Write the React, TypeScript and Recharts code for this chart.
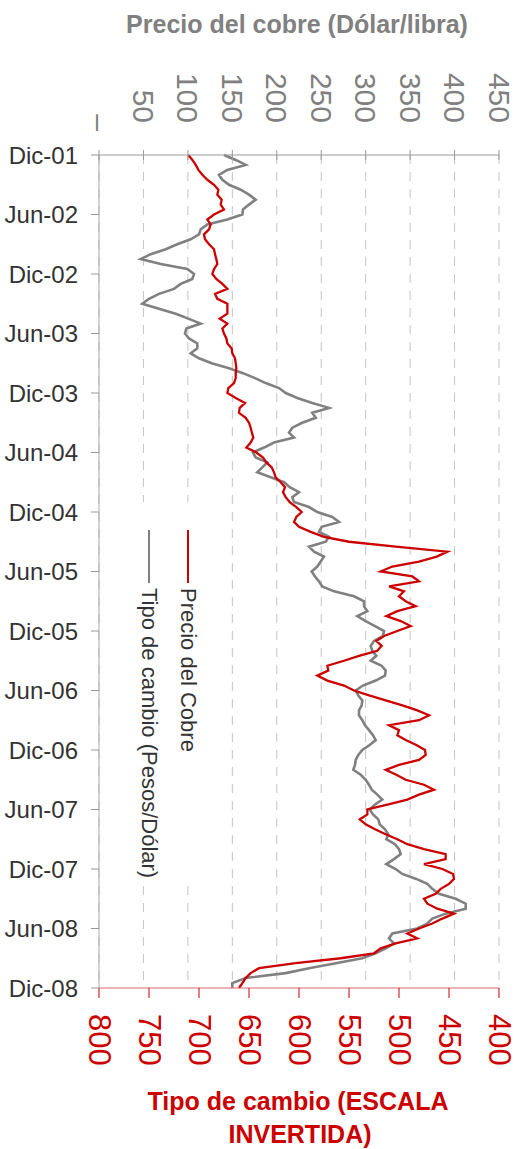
import React from 'react';
import { LineChart, Line, XAxis, YAxis, CartesianGrid, Legend } from 'recharts';

const FONT = '"Liberation Sans", Arial, Helvetica, sans-serif';

// Time axis (months since Dic-01), one sample every half month
const STEP_MONTHS = 0.5;
const dateLabels = ['Dic-01', 'Jun-02', 'Dic-02', 'Jun-03', 'Dic-03', 'Jun-04', 'Dic-04', 'Jun-05', 'Dic-05', 'Jun-06', 'Dic-06', 'Jun-07', 'Dic-07', 'Jun-08', 'Dic-08'];
const monthTicks = [0, 6, 12, 18, 24, 30, 36, 42, 48, 54, 60, 66, 72, 78, 84];
const copperTicks = [0, 50, 100, 150, 200, 250, 300, 350, 400, 450];
const fxTicks = [400, 450, 500, 550, 600, 650, 700, 750, 800];

// Precio del cobre (top axis)
const precioCobre = [
  100.5, 105, 108.8, 111.8, 116.3, 121.9, 129.4, 134.3, 133.1, 138, 136.9, 140.6,
  129.4, 121.9, 125.6, 123.8, 118.1, 119.3, 123.8, 129.4, 130.5, 132, 133.1, 129.4,
  127.5, 132, 138.8, 144.4, 130.5, 133.1, 144.4, 144.4, 144.4, 135.8, 144.4, 138.8,
  140.6, 143.3, 144.4, 149.3, 150, 153, 153.8, 154.5, 153.8, 153.8, 151.9, 145.5,
  144.4, 153.8, 164.3, 158.3, 157.5, 165, 168.8, 170.6, 172, 173.6, 170.6, 165.8,
  177, 184.5, 188.3, 194.3, 196.9, 198.8, 204.4, 209.3, 207, 210, 214.5, 222,
  228, 222, 219.4, 225, 238.1, 253.1, 281.3, 333.8, 392, 380, 360, 330,
  316.9, 352.5, 360, 326.3, 343.1, 337.5, 345, 356.3, 335.6, 323.3, 339.4, 350.6,
  335.6, 320.6, 312, 318, 313.1, 292.5, 275.6, 256.9, 258, 245.6, 256.9, 275.6,
  286.9, 303.8, 322.5, 341.3, 358.1, 371.3, 360, 326.3, 337.5, 335.6, 345, 357,
  366.8, 367.5, 360, 337.5, 322.5, 334.5, 345, 365.6, 376.9, 360, 346.9, 324.4,
  301.9, 301.9, 293.3, 300, 310.5, 322.5, 335.6, 346.9, 365.6, 390, 390, 365.6,
  386.3, 398.3, 399.4, 393.8, 384.4, 378.8, 365.6, 369.4, 380.6, 399.4, 386.3, 375,
  360, 346.9, 358.1, 333.8, 316.9, 309.4, 271.9, 221.3, 180, 170.6, 165, 161.3,
  157.5,
];

// Tipo de cambio, pesos por dólar (bottom axis, inverted)
const tipoCambio = [
  675, 663.3, 653.3, 671.7, 680, 676.7, 670, 658.3, 650, 643.3, 650, 656,
  656.7, 671.7, 691.7, 698.3, 700, 708.3, 721.7, 733.3, 748.3, 758.3, 738.3, 711.7,
  705, 706.7, 718.3, 725, 740, 750, 756.7, 740, 723.3, 710.7, 698.3, 712.7,
  714, 710, 701.7, 701.7, 708.3, 700, 687.3, 670, 656, 644, 633.3, 620,
  613.3, 601.7, 586.7, 570, 586.7, 583.3, 596.7, 606.7, 610, 605, 625, 635,
  646, 643.3, 631.7, 636.7, 641.7, 628.3, 615, 609.3, 600, 606.7, 605, 590,
  581.7, 566.7, 560, 577.3, 580, 570, 573.3, 590, 585, 575, 578.3, 581.7,
  587.3, 584, 580, 576.7, 565, 545, 535, 535, 531.7, 541.7, 533.3, 524,
  515, 516, 525, 528.3, 526.7, 522.7, 528.3, 517.3, 513.3, 514, 523.3, 536,
  543.3, 540.7, 536.7, 537.3, 540, 540, 536.7, 534, 530, 526, 523.3, 529.3,
  536.7, 540.7, 543.3, 544, 545.7, 538.3, 533.3, 530, 527.3, 521.7, 516.7, 524,
  529.3, 526, 520.7, 519.3, 514, 510.7, 512.7, 504, 500, 498.3, 505, 512.7,
  503.3, 496.7, 482.7, 471.7, 466.7, 460, 443.3, 433.3, 433.3, 453.3, 466.7, 471.7,
  481.7, 506.7, 510, 505, 513.3, 523.3, 536.7, 563.3, 590, 613.3, 653.3, 666.7,
  666.7,
];

const data = precioCobre.map((v, i) => ({ mes: i * STEP_MONTHS, cobre: v, tc: tipoCambio[i] }));

const TopTick = (props: any) => {
  const { x, y, payload } = props;
  const v = payload.value;
  const label = v === 0 ? '–' : String(v);
  const ty = v === 0 ? y - 24 : y - 32;
  return (
    <g>
      <line x1={x} x2={x} y1={y - 5} y2={y + 5} stroke="#999" strokeWidth={1} />
      <text
        transform={`translate(${x},${ty}) rotate(90)`}
        textAnchor="end"
        dominantBaseline="central"
        fontSize={30}
        fill="#808080"
        fontFamily={FONT}
      >
        {label}
      </text>
    </g>
  );
};

const BottomTick = (props: any) => {
  const { x, y, payload } = props;
  return (
    <text
      transform={`translate(${x},${y + 14}) rotate(90)`}
      textAnchor="start"
      dominantBaseline="central"
      fontSize={31}
      fill="#cc0000"
      fontFamily={FONT}
    >
      {payload.value}
    </text>
  );
};

const TopTitle = () => (
  <text x={297} y={33} textAnchor="middle" fontSize={25} fontWeight="bold" fill="#808080" fontFamily={FONT}>
    Precio del cobre (Dólar/libra)
  </text>
);

const BottomTitle = () => (
  <text textAnchor="middle" fontSize={25} fontWeight="bold" fill="#cc0000" fontFamily={FONT}>
    <tspan x={298} y={1110}>Tipo de cambio (ESCALA</tspan>
    <tspan x={300} y={1143}>INVERTIDA)</tspan>
  </text>
);

const legendX: Record<string, number> = {
  'Precio del Cobre': 63,
  'Tipo de cambio (Pesos/Dólar)': 24,
};

const LegendContent = (props: any) => {
  const items = props.payload || [];
  return (
    <svg width={90} height={380} style={{ display: 'block', background: '#fff' }}>
      {items.map((it: any, i: number) => {
        const cx = legendX[it.value] ?? 63 - 39 * i;
        return (
          <g key={it.value}>
            <line x1={cx} x2={cx} y1={28} y2={81} stroke={it.color} strokeWidth={2} />
            <text
              transform={`translate(${cx},86) rotate(90)`}
              textAnchor="start"
              dominantBaseline="central"
              fontSize={22}
              fill="#333"
              fontFamily={FONT}
            >
              {it.value}
            </text>
          </g>
        );
      })}
    </svg>
  );
};

export default function App() {
  return (
    <div style={{ position: 'absolute', left: 0, top: 0, width: 521, height: 1149, fontFamily: FONT, background: '#fff' }}>
      <LineChart
        layout="vertical"
        width={521}
        height={1149}
        data={data}
        margin={{ top: 0, right: 22, bottom: 0, left: 0 }}
      >
        <CartesianGrid xAxisId="top" horizontal={false} stroke="#c4c4c4" strokeDasharray="9 8" />
        <XAxis
          xAxisId="top"
          orientation="top"
          type="number"
          domain={[0, 450]}
          ticks={copperTicks}
          interval={0}
          height={155}
          axisLine={{ stroke: '#999' }}
          tickLine={false}
          tickSize={0}
          tickMargin={0}
          tick={<TopTick />}
          label={<TopTitle />}
        />
        <XAxis
          xAxisId="bottom"
          orientation="bottom"
          type="number"
          domain={[400, 800]}
          reversed
          ticks={fxTicks}
          interval={0}
          height={161}
          axisLine={{ stroke: '#e06666' }}
          tickLine={{ stroke: '#cc0000' }}
          tickSize={10}
          tick={<BottomTick />}
          label={<BottomTitle />}
        />
        <YAxis
          type="number"
          dataKey="mes"
          domain={[0, 84]}
          ticks={monthTicks}
          interval={0}
          tickFormatter={(v: number) => dateLabels[Math.round(v / 6)]}
          width={99}
          axisLine={{ stroke: '#aaa' }}
          tickLine={{ stroke: '#999' }}
          tickSize={8}
          tickMargin={13}
          tick={{ fill: '#333', fontSize: 24, fontFamily: FONT }}
        />
        <Legend
          layout="horizontal"
          verticalAlign="middle"
          align="center"
          width={90}
          height={380}
          wrapperStyle={{ left: 125, top: 502, width: 90, height: 380 }}
          content={<LegendContent />}
        />
        <Line
          xAxisId="bottom"
          dataKey="tc"
          name="Tipo de cambio (Pesos/Dólar)"
          stroke="#808080"
          strokeWidth={2.6}
          dot={false}
          isAnimationActive={false}
        />
        <Line
          xAxisId="top"
          dataKey="cobre"
          name="Precio del Cobre"
          stroke="#cc0000"
          strokeWidth={2.3}
          dot={false}
          isAnimationActive={false}
        />
      </LineChart>
    </div>
  );
}
